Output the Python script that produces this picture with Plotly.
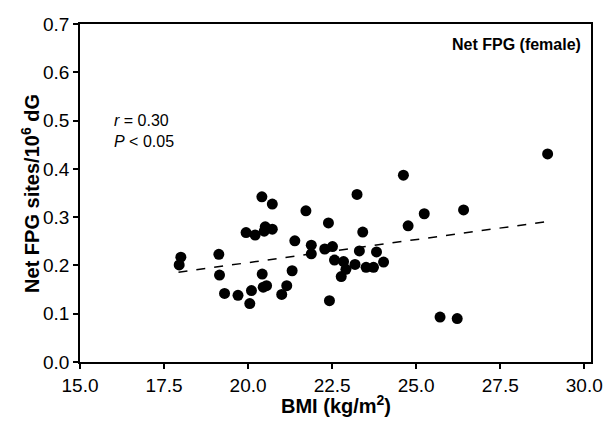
import plotly.graph_objects as go

# BMI (kg/m2) and net FPG sites per 10^6 dG, female subjects
bmi = [18.0, 17.95, 19.13, 19.15, 20.41, 20.72, 19.94, 20.21, 20.51, 20.48,
       20.72, 21.39, 20.42, 21.31, 24.62, 23.24, 21.72, 25.24, 22.39, 24.76,
       23.41, 21.88, 21.88, 22.28, 22.51, 23.31, 23.82, 22.57, 22.84, 22.91,
       23.18, 24.03, 23.51, 23.73, 22.77, 28.91, 26.41, 25.71, 26.22,
       19.3, 19.7, 20.1, 20.05, 20.45, 20.55, 21.0, 21.15, 22.42]
fpg = [0.217, 0.201, 0.223, 0.180, 0.342, 0.327, 0.268, 0.263, 0.280, 0.271,
       0.275, 0.251, 0.182, 0.189, 0.387, 0.347, 0.313, 0.307, 0.288, 0.282,
       0.269, 0.242, 0.224, 0.234, 0.239, 0.230, 0.228, 0.211, 0.208, 0.192,
       0.202, 0.207, 0.196, 0.196, 0.177, 0.431, 0.315, 0.093, 0.090,
       0.142, 0.138, 0.148, 0.121, 0.155, 0.158, 0.140, 0.158, 0.127]

# regression line end points
fit_x = [17.93, 28.81]
fit_y = [0.186, 0.290]

x_ticks = [15.0, 17.5, 20.0, 22.5, 25.0, 27.5, 30.0]
y_ticks = [0.0, 0.1, 0.2, 0.3, 0.4, 0.5, 0.6, 0.7]

font = "Liberation Sans, Arial, sans-serif"

fig = go.Figure()

fig.add_trace(go.Scatter(
    x=fit_x, y=fit_y, mode="lines",
    line=dict(color="black", width=1.5, dash="dash"),
    showlegend=False, hoverinfo="skip"
))

fig.add_trace(go.Scatter(
    x=bmi, y=fpg, mode="markers",
    marker=dict(size=11, color="black"),
    showlegend=False
))

fig.add_annotation(
    x=0.984, y=0.938, xref="paper", yref="paper",
    text="<b>Net FPG (female)</b>", showarrow=False,
    xanchor="right", yanchor="middle",
    font=dict(family=font, size=16, color="black")
)
fig.add_annotation(
    x=0.062, y=0.683, xref="paper", yref="paper",
    text="<i>r</i> = 0.30<br><i>P</i> < 0.05", showarrow=False,
    xanchor="left", yanchor="middle", align="left",
    font=dict(family=font, size=16, color="black")
)
# axis titles placed by hand
fig.add_annotation(
    x=0.5, y=-0.127, xref="paper", yref="paper",
    text="<b>BMI (kg/m<sup>2</sup>)</b>", showarrow=False,
    xanchor="center", yanchor="middle",
    font=dict(family=font, size=20, color="black")
)
fig.add_annotation(
    x=-0.098, y=0.5, xref="paper", yref="paper",
    text="<b>Net FPG sites/10<sup>6</sup> dG</b>", showarrow=False,
    textangle=-90, xanchor="center", yanchor="middle",
    font=dict(family=font, size=20, color="black")
)

fig.update_layout(
    width=605, height=432,
    plot_bgcolor="white", paper_bgcolor="white",
    margin=dict(l=80, r=14, t=24, b=70),
    font=dict(family=font, size=19, color="black"),
    xaxis=dict(
        range=[15, 30.2], tickvals=x_ticks, tickformat=".1f",
        showgrid=False, zeroline=False, automargin=False,
        showline=True, linecolor="black", linewidth=1.5, mirror=True,
        ticks="outside", ticklen=5, tickwidth=1.5, tickcolor="black",
    ),
    yaxis=dict(
        range=[0, 0.7], tickvals=y_ticks, tickformat=".1f",
        showgrid=False, zeroline=False, automargin=False,
        showline=True, linecolor="black", linewidth=1.5, mirror=True,
        ticks="outside", ticklen=5, tickwidth=1.5, tickcolor="black",
    ),
)

# drop the default page margin so the figure fills the window exactly
fig.write_html(
    "out.html",
    config={"displayModeBar": False},
    post_script="document.body.style.margin='0';document.body.style.overflow='hidden';",
)
